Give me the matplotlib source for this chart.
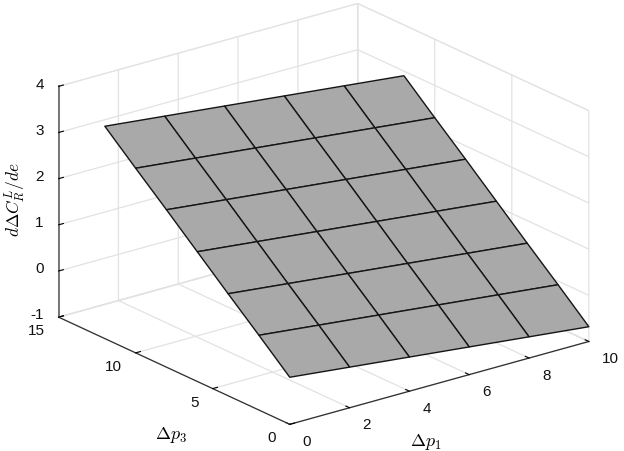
import numpy as np
import matplotlib
matplotlib.use("Agg")
from matplotlib import pyplot as plt
from matplotlib.ticker import NullFormatter

plt.rcParams['font.family'] = ['Liberation Sans', 'DejaVu Sans']
plt.rcParams['mathtext.fontset'] = 'cm'

dp1 = [0, 2, 4, 6, 8, 10]
dp3 = [0, 2, 4, 6, 8, 10, 12]
dcr = [
    [0.02, -0.12, -0.26, -0.40, -0.54, -0.68],
    [0.62, 0.48, 0.34, 0.20, 0.06, -0.08],
    [1.21, 1.07, 0.93, 0.79, 0.65, 0.51],
    [1.81, 1.67, 1.53, 1.39, 1.25, 1.11],
    [2.41, 2.27, 2.13, 1.99, 1.85, 1.71],
    [3.00, 2.86, 2.72, 2.58, 2.44, 2.30],
    [3.60, 3.46, 3.32, 3.18, 3.04, 2.90],
]
x_ticks = [0, 2, 4, 6, 8, 10]
y_ticks = [0, 5, 10, 15]
z_ticks = [-1, 0, 1, 2, 3, 4]

fig = plt.figure(figsize=(6.24, 4.52), dpi=100)
ax = fig.add_axes([0.009, 0.011, 1, 1], projection='3d', computed_zorder=False)
ax.set_proj_type('ortho')
ax.view_init(elev=21, azim=-127.7)
ax.set_box_aspect((1, 1, 0.654), zoom=1.265)

X, Y = np.meshgrid(dp1, dp3)
surf = ax.plot_surface(X, Y, np.array(dcr), rstride=1, cstride=1, color='#a9a9a9',
                       edgecolor='#151515', linewidth=1.0, shade=False, antialiased=True)
surf.set_clip_on(False)  # the 3d axes box is square, it would cut the right side

ax.set_xlim(0, 10)
ax.set_ylim(0, 15)
ax.set_zlim(-1, 4)
ax.set_xticks(x_ticks)
ax.set_yticks(y_ticks)
ax.set_zticks(z_ticks)

for axis in (ax.xaxis, ax.yaxis, ax.zaxis):
    axis.set_major_formatter(NullFormatter())
    axis.set_tick_params(labelbottom=False, labeltop=False)
    axis.pane.set_facecolor('white')
    axis.pane.set_edgecolor('#e2e2e2')
    axis.line.set_color('#303030')
    axis.line.set_linewidth(0.9)
    axis._axinfo['grid'].update(color='#e2e2e2', linewidth=0.9)
    axis._axinfo['tick'].update(inward_factor=0, outward_factor=0.2, linewidth={True: 0.8, False: 0.5})
ax.zaxis.line.set_color('#606060')
ax.zaxis.line.set_linewidth(1.2)

# tick labels by hand, the 3d pad only moves them along the tick
for v in x_ticks:
    ax.text(v, -0.85, -1.23, str(v), ha='left', va='center', fontsize=11, color='#111111')
for v in y_ticks:
    ax.text(-0.47, v, -1.2, str(v), ha='right', va='center', fontsize=11, color='#111111')
for v in z_ticks:
    ax.text(-0.5, 15, v + 0.15, str(v), ha='right', va='center', fontsize=11, color='#111111')

fig.text(426 / 624, 1 - 442 / 452, r'$\Delta p_1$', fontsize=13, ha='center', va='center')
fig.text(171 / 624, 1 - 435 / 452, r'$\Delta p_3$', fontsize=13, ha='center', va='center')
fig.text(15 / 624, 1 - 200 / 452, r'$d\Delta C_R^L/de$', fontsize=12.5, rotation=90, ha='center', va='center')

fig.savefig('out.png', dpi=100)
